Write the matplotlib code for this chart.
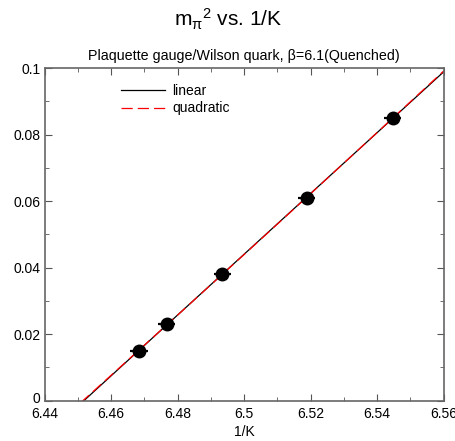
import numpy as np
import matplotlib.pyplot as plt
from matplotlib.transforms import ScaledTranslation

plt.rcParams['font.family'] = ['Liberation Sans', 'DejaVu Sans']
plt.rcParams['mathtext.fontset'] = 'custom'
plt.rcParams['mathtext.rm'] = 'Liberation Sans'
plt.rcParams['mathtext.it'] = 'Liberation Sans'

# pion mass squared against 1/kappa
inv_k = [6.4684, 6.4767, 6.4935, 6.5188, 6.5447]
mpi2 = [0.0150, 0.0230, 0.0380, 0.0610, 0.0850]
inv_k_err = [0.0026, 0.0026, 0.0026, 0.0026, 0.0026]

xticks = [6.44, 6.46, 6.48, 6.50, 6.52, 6.54, 6.56]
xtick_labels = ['6.44', '6.46', '6.48', '6.5', '6.52', '6.54', '6.56']
yticks = [0, 0.02, 0.04, 0.06, 0.08, 0.1]
ytick_labels = ['0', '0.02', '0.04', '0.06', '0.08', '0.1']

lin = np.polyfit(inv_k, mpi2, 1)
quad = np.polyfit(inv_k, mpi2, 2)
xs = np.linspace(6.44, 6.56, 300)

fig = plt.figure(figsize=(4.56, 4.41), dpi=100)
ax = fig.add_axes([0.0976, 0.0914, 0.875, 0.754])

ax.plot(xs, np.polyval(lin, xs), color='black', lw=0.9, label='linear')
ax.plot(xs, np.polyval(quad, xs), color='red', lw=0.9, dashes=(9, 4), label='quadratic')
ax.errorbar(inv_k, mpi2, xerr=inv_k_err, fmt='o', color='black', ms=9,
            elinewidth=1.6, capsize=0)

ax.set_xlim(6.44, 6.56)
ax.set_ylim(0, 0.1)
ax.set_xticks(xticks)
ax.set_xticklabels(xtick_labels)
ax.set_xticks(np.arange(6.45, 6.56, 0.02), minor=True)
ax.set_yticks(yticks)
ax.set_yticklabels(ytick_labels)
ax.set_yticks([0.01, 0.03, 0.05, 0.07, 0.09], minor=True)
ax.tick_params(which='both', direction='in', top=True, right=True, labelsize=10,
               color='#555555', pad=3)
ax.tick_params(axis='x', which='major', pad=4.5)
ax.tick_params(which='major', length=5)
ax.tick_params(which='minor', length=3)
for s in ax.spines.values():
    s.set_color('#666666')
    s.set_linewidth(1.2)

# lift the "0" label a little so it clears "6.44"
zero = ax.get_yticklabels()[0]
zero.set_transform(zero.get_transform() + ScaledTranslation(0, 3 / 100, fig.dpi_scale_trans))

ax.set_xlabel('1/K', fontsize=10, labelpad=3)
ax.set_title('Plaquette gauge/Wilson quark, β=6.1(Quenched)', fontsize=10.3, pad=6)
fig.text(0.5, 0.955, r'm$_\pi$$^2$ vs. 1/K', ha='center', va='center', fontsize=15)

ax.legend(loc='upper left', bbox_to_anchor=(0.16, 0.99), frameon=False,
          fontsize=10, handlelength=3.2, labelspacing=0.25, handletextpad=0.5)

fig.savefig('out.png', dpi=100)
